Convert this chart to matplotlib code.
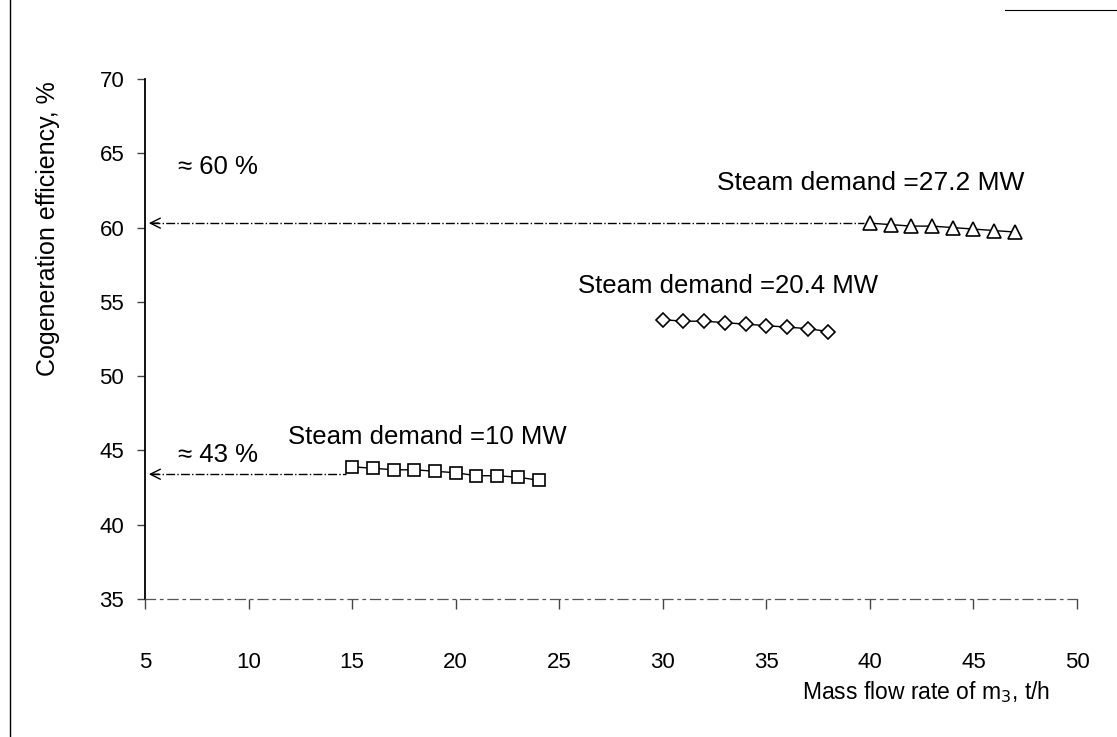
import numpy as np
import matplotlib.pyplot as plt
from matplotlib.lines import Line2D

plt.rcParams['font.family'] = ['Liberation Sans', 'DejaVu Sans']

# Cogeneration efficiency vs. mass flow rate of m3 for three steam demands
m3_10 = [15, 16, 17, 18, 19, 20, 21, 22, 23, 24]
eff_10 = [43.9, 43.8, 43.7, 43.7, 43.6, 43.5, 43.3, 43.3, 43.2, 43.0]

m3_204 = [30, 31, 32, 33, 34, 35, 36, 37, 38]
eff_204 = [53.8, 53.7, 53.7, 53.6, 53.5, 53.4, 53.3, 53.2, 53.0]

m3_272 = [40, 41, 42, 43, 44, 45, 46, 47]
eff_272 = [60.3, 60.2, 60.1, 60.1, 60.0, 59.9, 59.8, 59.7]

approx_hi = 60.3
approx_lo = 43.4

fig = plt.figure(figsize=(11.17, 7.37), dpi=100)
ax = fig.add_axes([0.1298, 0.1872, 0.8344, 0.7056])

mk = dict(color='black', lw=1.0, mfc='white', mec='black', mew=1.2, ms=9)
ax.plot(m3_10, eff_10, marker='s', **mk)
ax.plot(m3_204, eff_204, marker='D', **dict(mk, ms=7.5))
ax.plot(m3_272, eff_272, marker='^', **dict(mk, ms=10))

# dash-dot guides back to the y axis
for x0, y0 in [(m3_272[0], approx_hi), (m3_10[0], approx_lo)]:
    ax.plot([5.3, x0 - 0.3], [y0, y0], color='black', lw=1.0, ls='-.')
    ax.annotate('', xy=(5.05, y0), xytext=(5.8, y0),
                arrowprops=dict(arrowstyle='->', color='black', lw=1.0,
                                mutation_scale=18))

fs = 18.5
ax.text(6.6, 64.1, '≈ 60 %', fontsize=fs, va='center')
ax.text(6.6, 44.7, '≈ 43 %', fontsize=fs, va='center')
ax.text(32.6, 63.0, 'Steam demand =27.2 MW', fontsize=19, va='center')
ax.text(25.9, 56.1, 'Steam demand =20.4 MW', fontsize=fs, va='center')
ax.text(11.9, 45.9, 'Steam demand =10 MW', fontsize=fs, va='center')

ax.set_xlim(5, 50)
ax.set_ylim(35, 70)
ax.set_xticks(np.arange(5, 51, 5))
ax.set_yticks(np.arange(35, 71, 5))

for s in ['top', 'right']:
    ax.spines[s].set_visible(False)
ax.spines['left'].set_linewidth(1.3)
ax.spines['bottom'].set_linewidth(0.9)
ax.spines['bottom'].set_color('#555555')
ax.spines['bottom'].set_linestyle((0, (8, 4, 2, 4)))

ax.tick_params(axis='y', direction='out', length=6, width=1.0,
               labelsize=16, pad=9, color='#444444')
ax.tick_params(axis='x', direction='out', length=7, width=1.0,
               labelsize=16, pad=31, color='#444444')

fig.text(0.043, 0.69, 'Cogeneration efficiency, %', rotation=90,
         fontsize=18, ha='center', va='center')
fig.text(0.940, 0.061, 'Mass flow rate of m$_3$, t/h', fontsize=16.5,
         ha='right', va='center')

# page border remnants
fig.add_artist(Line2D([0.009, 0.009], [0.0, 1.0], color='black', lw=1.0,
                      transform=fig.transFigure))
fig.add_artist(Line2D([0.90, 1.0], [0.987, 0.987], color='black', lw=0.8,
                      transform=fig.transFigure))

fig.savefig('out.png', dpi=100)
